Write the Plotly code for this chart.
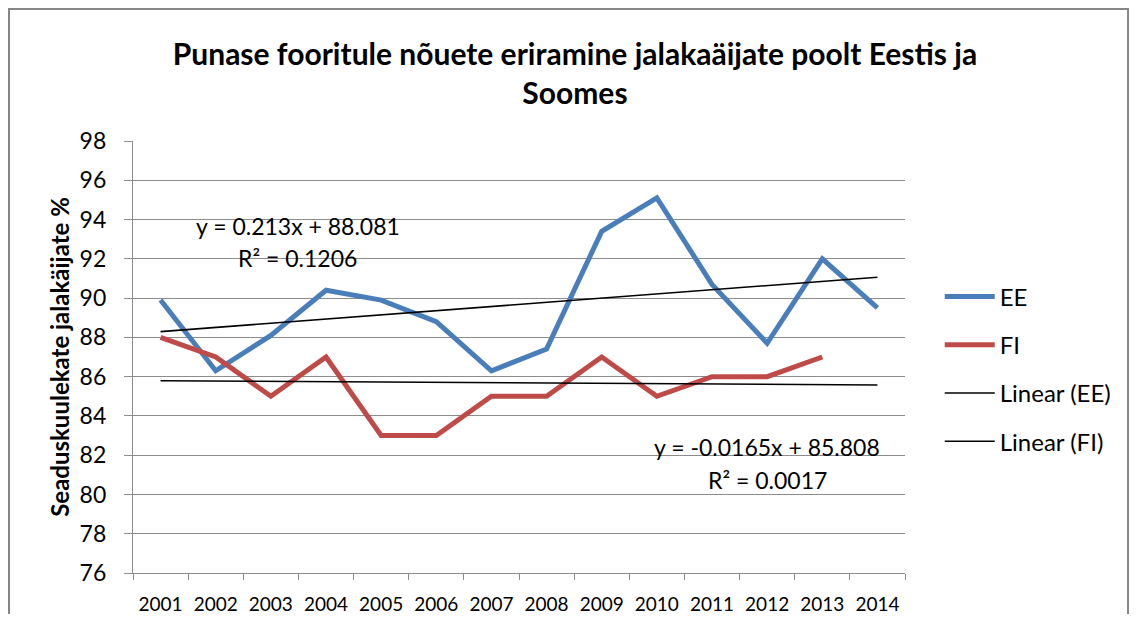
import numpy as np
import plotly.graph_objects as go

years = ["2001", "2002", "2003", "2004", "2005", "2006", "2007",
         "2008", "2009", "2010", "2011", "2012", "2013", "2014"]
ee_values = [89.9, 86.3, 88.1, 90.4, 89.9, 88.8, 86.3, 87.4, 93.4, 95.1, 90.7, 87.7, 92.0, 89.5]
fi_values = [88, 87, 85, 87, 83, 83, 85, 85, 87, 85, 86, 86, 87]

title_text = "Punase fooritule nõuete eriramine jalakaäijate poolt Eestis ja<br>Soomes"
y_title = "Seaduskuulekate jalakäijate %"

FONT = "Lato"
BLUE = "#4A7EBB"
RED = "#BE4B48"
GRID = "#8C8C8C"

# linear trendlines (least squares on x = 1..n), drawn across the full category range
n_all = len(years)
xs_all = np.arange(1, n_all + 1)
ee_fit = np.polyfit(np.arange(1, len(ee_values) + 1), ee_values, 1)
fi_fit = np.polyfit(np.arange(1, len(fi_values) + 1), fi_values, 1)
ee_trend = np.polyval(ee_fit, xs_all)
fi_trend = np.polyval(fi_fit, xs_all)

def r2(vals, fit):
    vals = np.asarray(vals, float)
    pred = np.polyval(fit, np.arange(1, len(vals) + 1))
    ss_res = ((vals - pred) ** 2).sum()
    ss_tot = ((vals - vals.mean()) ** 2).sum()
    return 1 - ss_res / ss_tot

fig = go.Figure()
fig.add_trace(go.Scatter(x=years, y=ee_values, mode="lines", name="EE",
                         line=dict(color=BLUE, width=5), legendgroup="a"))
fig.add_trace(go.Scatter(x=years[:len(fi_values)], y=fi_values, mode="lines", name="FI",
                         line=dict(color=RED, width=5), legendgroup="b"))
fig.add_trace(go.Scatter(x=years, y=ee_trend, mode="lines", name="Linear (EE)",
                         line=dict(color="black", width=1.6), legendgroup="c"))
fig.add_trace(go.Scatter(x=years, y=fi_trend, mode="lines", name="Linear (FI)",
                         line=dict(color="black", width=1.6), legendgroup="d"))

ann_font = dict(family=FONT, size=23, color="black")
fig.add_annotation(x=2.49, y=93.67, xref="x", yref="y", showarrow=False,
                   text=f"y = {ee_fit[0]:.3f}x + {ee_fit[1]:.3f}", font=ann_font)
fig.add_annotation(x=2.49, y=92.04, xref="x", yref="y", showarrow=False,
                   text=f"R² = {r2(ee_values, ee_fit):.4f}", font=ann_font)
fig.add_annotation(x=11.0, y=82.42, xref="x", yref="y", showarrow=False,
                   text=f"y = {fi_fit[0]:.4f}x + {fi_fit[1]:.3f}", font=ann_font)
fig.add_annotation(x=11.0, y=80.74, xref="x", yref="y", showarrow=False,
                   text=f"R² = {r2(fi_values, fi_fit):.4f}", font=ann_font)

# outer chart border (left, top, right; bottom edge is cropped in the reference)
fig.add_shape(type="path", xref="paper", yref="paper",
              path="M -0.1606,-0.2 L -0.1606,1.3056 L 1.2889,1.3056 L 1.2889,-0.2",
              line=dict(color="#868686", width=2), fillcolor="rgba(0,0,0,0)", layer="below")

# page body has an 8px default margin; size the figure so the page does not overflow
fig.update_layout(
    width=1121, height=606,
    margin=dict(l=125, r=224, t=133, b=41, autoexpand=False),
    paper_bgcolor="white", plot_bgcolor="white",
    title=dict(text=title_text, x=0.5725, xref="paper", xanchor="center",
               y=0.906, yanchor="middle",
               font=dict(family=FONT, size=30, color="black", weight="bold")),
    font=dict(family=FONT, color="black"),
    showlegend=True,
    legend=dict(x=1.045, y=0.691, xanchor="left", yanchor="top",
                font=dict(family=FONT, size=24, color="black"),
                tracegroupgap=14, traceorder="grouped",
                bgcolor="rgba(0,0,0,0)", itemwidth=50),
    xaxis=dict(type="category", tickson="boundaries", showgrid=False,
               range=[-0.5, 13.5], tickangle=0,
               showline=True, linecolor=GRID, linewidth=1.3,
               ticks="outside", ticklen=6, tickcolor=GRID, tickwidth=1.3,
               tickfont=dict(family=FONT, size=19, color="black"),
               ticklabelstandoff=14, zeroline=False),
    yaxis=dict(range=[76, 98], dtick=2, tick0=76, showgrid=True,
               gridcolor=GRID, gridwidth=1.3,
               showline=True, linecolor=GRID, linewidth=1.3,
               ticks="outside", ticklen=8, tickcolor=GRID, tickwidth=1.3,
               tickfont=dict(family=FONT, size=23, color="black"),
               ticklabelstandoff=13, zeroline=False,
               title=dict(text=y_title, standoff=3,
                          font=dict(family=FONT, size=24, color="black", weight="bold"))),
)

fig.write_html("out.html")
